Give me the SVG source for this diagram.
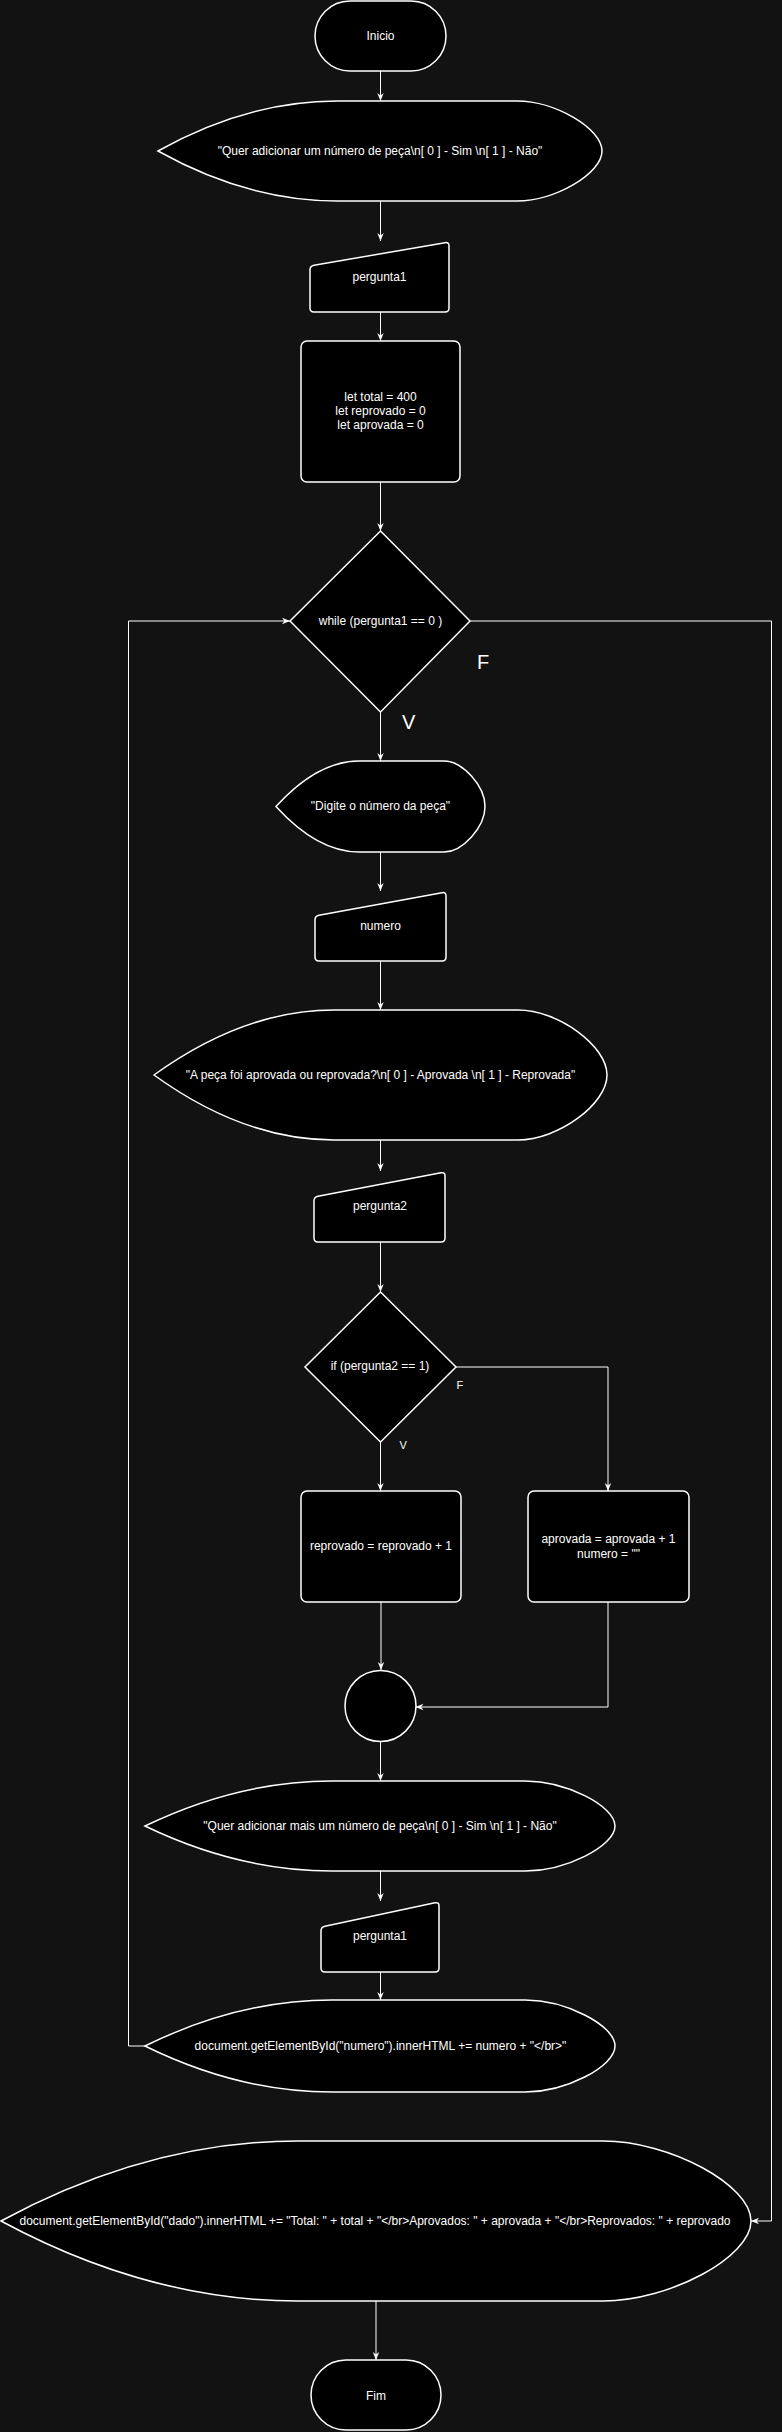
<svg xmlns="http://www.w3.org/2000/svg" width="782" height="2432" viewBox="0 0 782 2432">
<style>
.s{fill:#000;stroke:#fff;stroke-width:1.5}
.t{font-family:"Liberation Sans",Arial,sans-serif;font-size:12px;fill:#fff;text-anchor:middle}
.lb{font-family:"Liberation Sans",Arial,sans-serif;fill:#fff}
.c{fill:none;stroke:#fff;stroke-width:1}
</style>
<defs>
<marker id="arr" viewBox="0 0 10 10" refX="10" refY="5" markerWidth="8" markerHeight="8" markerUnits="userSpaceOnUse" orient="auto"><path d="M0,1 L10,5 L0,9 L3,5 Z" fill="#fff"/></marker>
</defs>
<rect x="0" y="0" width="782" height="2432" fill="#121212"/>
<g id="connectors">
<path class="c" marker-end="url(#arr)" d="M380.5,71 L380.5,101"/>
<path class="c" marker-end="url(#arr)" d="M380.5,201 L380.5,241"/>
<path class="c" marker-end="url(#arr)" d="M380.5,312 L380.5,341"/>
<path class="c" marker-end="url(#arr)" d="M380.5,482 L380.5,531"/>
<path class="c" marker-end="url(#arr)" d="M380.5,712 L380.5,761"/>
<path class="c" marker-end="url(#arr)" d="M380.5,852 L380.5,891"/>
<path class="c" marker-end="url(#arr)" d="M380.5,961 L380.5,1010"/>
<path class="c" marker-end="url(#arr)" d="M380.5,1140 L380.5,1171"/>
<path class="c" marker-end="url(#arr)" d="M380.5,1242 L380.5,1292"/>
<path class="c" marker-end="url(#arr)" d="M380.5,1442 L380.5,1491"/>
<path class="c" marker-end="url(#arr)" d="M456,1367 L608,1367 L608,1491"/>
<path class="c" marker-end="url(#arr)" d="M381,1602 L381,1670"/>
<path class="c" marker-end="url(#arr)" d="M608,1602 L608,1707 L415.5,1707"/>
<path class="c" marker-end="url(#arr)" d="M380.5,1742 L380.5,1781"/>
<path class="c" marker-end="url(#arr)" d="M380.5,1871 L380.5,1901"/>
<path class="c" marker-end="url(#arr)" d="M380.5,1972 L380.5,2000"/>
<path class="c" marker-end="url(#arr)" d="M145,2046 L128.5,2046 L128.5,621 L290,621"/>
<path class="c" marker-end="url(#arr)" d="M470,621 L771.5,621 L771.5,2221 L751,2221"/>
<path class="c" marker-end="url(#arr)" d="M376,2301 L376,2360"/>
<text class="lb" x="477" y="669" font-size="20">F</text>
<text class="lb" x="402" y="729" font-size="20">V</text>
<text class="lb" x="456.5" y="1389" font-size="11">F</text>
<text class="lb" x="399.5" y="1449" font-size="11">V</text>
</g>
<g id="inicio">
<rect class="s" x="315" y="1" width="131" height="70" rx="35" ry="35"/>
<text class="t" x="380.5" y="40">Inicio</text>
</g>
<g id="display1">
<path class="s" d="M337,101 L517,101 C555.25,101 602,128.5 602,151 C602,173.5 555.25,201 517,201 L337,201 Q247.5,201 158,151 Q247.5,101 337,101 Z"/>
<text class="t" x="380" y="155">"Quer adicionar um número de peça\n[ 0 ] - Sim \n[ 1 ] - Não"</text>
</g>
<g id="input-pergunta1">
<path class="s" d="M310,270 Q310,266 314,265.3 L445,242.7 Q449,242 449,246 L449,308 Q449,312 445,312 L314,312 Q310,312 310,308 Z"/>
<text class="t" x="379.5" y="281">pergunta1</text>
</g>
<g id="init-vars">
<rect class="s" x="301" y="341" width="159" height="141" rx="6" ry="6"/>
<text class="t" x="380.5" y="401">let total = 400</text>
<text class="t" x="380.5" y="415">let reprovado = 0</text>
<text class="t" x="380.5" y="429">let aprovada = 0</text>
</g>
<g id="while">
<path class="s" d="M380.5,531 L470,621 L380.5,712 L290,621 Z"/>
<text class="t" x="380.5" y="625">while (pergunta1 == 0 )</text>
</g>
<g id="display-digite">
<path class="s" d="M359,761 L444,761 C462.5,761 485,786 485,806.5 C485,827 462.5,852 444,852 L359,852 Q317.5,852 276,806.5 Q317.5,761 359,761 Z"/>
<text class="t" x="380.5" y="810">"Digite o número da peça"</text>
</g>
<g id="input-numero">
<path class="s" d="M315,920 Q315,916 319,915.3 L442,892.7 Q446,892 446,896 L446,957 Q446,961 442,961 L319,961 Q315,961 315,957 Z"/>
<text class="t" x="380.5" y="930">numero</text>
</g>
<g id="display-aprovada">
<path class="s" d="M334,1010 L518,1010 C558,1010 607,1045.75 607,1075 C607,1104.25 558,1140 518,1140 L334,1140 Q244,1140 154,1075 Q244,1010 334,1010 Z"/>
<text class="t" x="380.5" y="1079">"A peça foi aprovada ou reprovada?\n[ 0 ] - Aprovada \n[ 1 ] - Reprovada"</text>
</g>
<g id="input-pergunta2">
<path class="s" d="M314,1201 Q314,1197 318,1196.2 L441,1172.8 Q445,1172 445,1176 L445,1238 Q445,1242 441,1242 L318,1242 Q314,1242 314,1238 Z"/>
<text class="t" x="380" y="1210">pergunta2</text>
</g>
<g id="if">
<path class="s" d="M380.5,1292 L456,1367 L380.5,1442 L305,1367 Z"/>
<text class="t" x="380" y="1370">if (pergunta2 == 1)</text>
</g>
<g id="reprovado">
<rect class="s" x="301" y="1491" width="160" height="111" rx="6" ry="6"/>
<text class="t" x="381" y="1550">reprovado = reprovado + 1</text>
</g>
<g id="aprovada">
<rect class="s" x="528" y="1491" width="161" height="111" rx="6" ry="6"/>
<text class="t" x="608.5" y="1543">aprovada = aprovada + 1</text>
<text class="t" x="608.5" y="1558">numero = ""</text>
</g>
<g id="junction">
<circle class="s" cx="380.5" cy="1706" r="35.5"/>
</g>
<g id="display-mais">
<path class="s" d="M332,1781 L525,1781 C565.5,1781 615,1805.75 615,1826 C615,1846.25 565.5,1871 525,1871 L332,1871 Q238.5,1871 145,1826 Q238.5,1781 332,1781 Z"/>
<text class="t" x="380" y="1830">"Quer adicionar mais um número de peça\n[ 0 ] - Sim \n[ 1 ] - Não"</text>
</g>
<g id="input-pergunta1b">
<path class="s" d="M321,1931 Q321,1927 325,1926.2 L435,1902.8 Q439,1902 439,1906 L439,1968 Q439,1972 435,1972 L325,1972 Q321,1972 321,1968 Z"/>
<text class="t" x="380" y="1940">pergunta1</text>
</g>
<g id="display-numero">
<path class="s" d="M332,2000 L525,2000 C565.5,2000 615,2025.3 615,2046 C615,2066.7 565.5,2092 525,2092 L332,2092 Q238.5,2092 145,2046 Q238.5,2000 332,2000 Z"/>
<text class="t" x="380.5" y="2050">document.getElementById("numero").innerHTML += numero + "&lt;/br&gt;"</text>
</g>
<g id="display-dado">
<path class="s" d="M298,2141 L603,2141 C669.6,2141 751,2185 751,2221 C751,2257 669.6,2301 603,2301 L298,2301 Q149.5,2301 1,2221 Q149.5,2141 298,2141 Z"/>
<text class="t" x="375" y="2225">document.getElementById("dado").innerHTML += "Total: " + total + "&lt;/br&gt;Aprovados: " + aprovada + "&lt;/br&gt;Reprovados: " + reprovado</text>
</g>
<g id="fim">
<rect class="s" x="311" y="2360" width="130" height="70" rx="35" ry="35"/>
<text class="t" x="376" y="2400">Fim</text>
</g>
</svg>
